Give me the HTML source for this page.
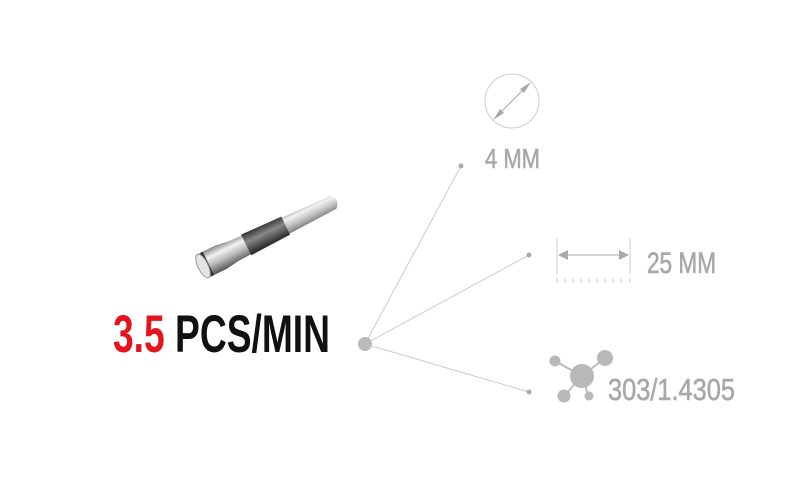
<!DOCTYPE html>
<html><head><meta charset="utf-8"><style>html,body{margin:0;padding:0;background:#fff}svg{display:block}</style></head>
<body>
<svg width="800" height="480" viewBox="0 0 800 480" xmlns="http://www.w3.org/2000/svg">
<defs>
<linearGradient id="steel" x1="0" y1="0" x2="0" y2="1">
<stop offset="0" stop-color="#888"/><stop offset="0.3" stop-color="#f2f2f2"/><stop offset="0.6" stop-color="#bbb"/><stop offset="1" stop-color="#555"/>
</linearGradient>
<linearGradient id="grip" x1="0" y1="0" x2="0" y2="1">
<stop offset="0" stop-color="#333"/><stop offset="0.4" stop-color="#888"/><stop offset="1" stop-color="#222"/>
</linearGradient>
</defs>
<!-- pin -->
<g transform="translate(203,266) rotate(-26)">
<path d="M0,-13 L20,-13 L34,-11 L145,-7 Q153,0 145,7 L34,11 L20,13 L0,13 Z" fill="url(#steel)"/>
<path d="M48,-11.5 L92,-10 L92,10 L48,11.5 Z" fill="url(#grip)"/>
<rect x="3" y="-13" width="3" height="26" fill="#333"/>
<ellipse cx="0" cy="0" rx="5" ry="13" fill="#e4e4e4" stroke="#999" stroke-width="1"/>
</g>
<!-- connectors -->
<g stroke="#ccc" stroke-width="1">
<line x1="365" y1="344" x2="461" y2="166"/>
<line x1="365" y1="344" x2="529" y2="255"/>
<line x1="365" y1="344" x2="529" y2="392"/>
</g>
<circle cx="365" cy="344" r="7" fill="#bbb"/>
<circle cx="461" cy="166" r="2.5" fill="#aaa"/>
<circle cx="529" cy="255" r="2.5" fill="#aaa"/>
<circle cx="529" cy="392" r="2.5" fill="#aaa"/>
<!-- diameter icon -->
<circle cx="512" cy="101" r="27" fill="none" stroke="#ccc" stroke-width="1"/>
<line x1="497" y1="116" x2="527" y2="86" stroke="#aaa" stroke-width="1"/>
<polygon points="493,120 500,109 504,113" fill="#aaa"/>
<polygon points="531,82 524,93 520,89" fill="#aaa"/>
<!-- length icon -->
<g stroke="#ccc" stroke-width="1">
<line x1="557" y1="238" x2="557" y2="275"/>
<line x1="630" y1="238" x2="630" y2="275"/>
<line x1="560" y1="255" x2="627" y2="255" stroke="#aaa"/>
</g>
<polygon points="558,255 568,250 568,260" fill="#aaa"/>
<polygon points="629,255 619,250 619,260" fill="#aaa"/>
<g stroke="#ccc" stroke-width="1">
<line x1="557" y1="278" x2="557" y2="283"/><line x1="565" y1="278" x2="565" y2="283"/><line x1="573" y1="278" x2="573" y2="283"/><line x1="581" y1="278" x2="581" y2="283"/><line x1="589" y1="278" x2="589" y2="283"/><line x1="597" y1="278" x2="597" y2="283"/><line x1="605" y1="278" x2="605" y2="283"/><line x1="613" y1="278" x2="613" y2="283"/><line x1="621" y1="278" x2="621" y2="283"/><line x1="630" y1="278" x2="630" y2="283"/>
</g>
<!-- molecule -->
<g stroke="#bbb" stroke-width="2">
<line x1="582" y1="376" x2="605" y2="358"/><line x1="582" y1="376" x2="555" y2="361"/><line x1="582" y1="376" x2="564" y2="396"/><line x1="582" y1="376" x2="588" y2="395"/>
</g>
<g fill="#b8b8b8">
<circle cx="582" cy="376" r="12"/><circle cx="605" cy="358" r="8"/><circle cx="555" cy="361" r="5.5"/><circle cx="564" cy="396" r="6.5"/><circle cx="589" cy="396" r="4.5"/>
</g>
<!-- labels -->
<g font-family="Liberation Sans, sans-serif" fill="#a8a8a8" stroke="#a8a8a8" stroke-width="0.6">
<text x="485" y="168" font-size="28" textLength="55" lengthAdjust="spacingAndGlyphs">4 MM</text>
<text x="647" y="273" font-size="30" textLength="69" lengthAdjust="spacingAndGlyphs">25 MM</text>
<text x="608" y="400" font-size="31" textLength="127" lengthAdjust="spacingAndGlyphs">303/1.4305</text>
</g>
<text x="113" y="352" font-family="Liberation Sans, sans-serif" font-weight="bold" font-size="53" textLength="217" lengthAdjust="spacingAndGlyphs"><tspan fill="#e3141b">3.5</tspan><tspan fill="#111"> PCS/MIN</tspan></text>
</svg>
</body></html>
